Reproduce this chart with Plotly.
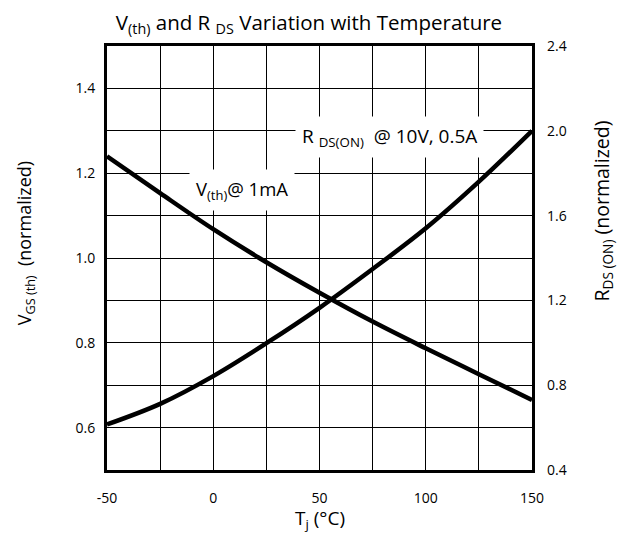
import plotly.graph_objects as go

# ---- data ----
temps = [-50, -25, 0, 25, 50, 75, 100, 125, 150]
vth = [1.24, 1.153, 1.068, 0.99, 0.918, 0.85, 0.787, 0.726, 0.665]
rds = [0.615, 0.712, 0.843, 0.998, 1.165, 1.348, 1.54, 1.76, 2.0]

x_tickvals = [-50, 0, 50, 100, 150]
x_ticktext = ["-50", "0", "50", "100", "150"]
x_gridvals = [-50, -25, 0, 25, 50, 75, 100, 125, 150]
y_tickvals = [0.6, 0.8, 1.0, 1.2, 1.4]
y_ticktext = ["0.6", "0.8", "1.0", "1.2", "1.4"]
y_gridvals = [0.5, 0.6, 0.7, 0.8, 0.9, 1.0, 1.1, 1.2, 1.3, 1.4, 1.5]
y2_tickvals = [0.4, 0.8, 1.2, 1.6, 2.0, 2.4]
y2_ticktext = ["0.4", "0.8", "1.2", "1.6", "2.0", "2.4"]

FONT = "Open Sans"

fig = go.Figure()
fig.add_trace(go.Scatter(x=temps, y=vth, mode="lines", yaxis="y",
                         line=dict(color="black", width=4.5, shape="spline"),
                         showlegend=False, hoverinfo="skip"))
fig.add_trace(go.Scatter(x=temps, y=rds, mode="lines", yaxis="y2",
                         line=dict(color="black", width=4.5, shape="spline"),
                         showlegend=False, hoverinfo="skip"))

fig.update_layout(
    width=610, height=524, autosize=False,
    margin=dict(l=99, r=86, t=38, b=62),
    paper_bgcolor="white", plot_bgcolor="white",
    font=dict(family=FONT, color="black", size=14),
    title=dict(text="V<sub>(th)</sub> and R <sub>DS</sub> Variation with Temperature",
               x=0.4934, xanchor="center", y=0.972, yanchor="middle",
               font=dict(size=20.5, family=FONT, color="black")),
    xaxis=dict(range=[-50, 150], tickvals=x_tickvals, ticktext=x_ticktext,
               showgrid=True, gridcolor="black", gridwidth=1,
               minor=dict(tickvals=x_gridvals, showgrid=True, gridcolor="black",
                          gridwidth=1, ticks=""),
               showline=True, linecolor="black", linewidth=3, mirror=True,
               ticks="", ticklabelstandoff=13, zeroline=False,
               tickfont=dict(size=14)),
    yaxis=dict(range=[0.5, 1.5], tickvals=y_tickvals, ticktext=y_ticktext,
               showgrid=True, gridcolor="black", gridwidth=1,
               minor=dict(tickvals=y_gridvals, showgrid=True, gridcolor="black",
                          gridwidth=1, ticks=""),
               showline=True, linecolor="black", linewidth=3, mirror=True,
               ticks="", ticklabelstandoff=6, zeroline=False,
               tickfont=dict(size=14)),
    yaxis2=dict(range=[0.4, 2.4], tickvals=y2_tickvals, ticktext=y2_ticktext,
                overlaying="y", side="right", showgrid=False, showline=False,
                ticks="", ticklabelstandoff=14, zeroline=False,
                tickfont=dict(size=14)),
    annotations=[
        dict(text="V<sub>(th)</sub>@ 1mA", x=13.5, y=1.16, xref="x", yref="y",
             showarrow=False, bgcolor="white", borderpad=6,
             font=dict(size=18.5, family=FONT)),
        dict(text="R <sub>DS(ON)</sub>  @ 10V, 0.5A", x=83, y=1.285, xref="x", yref="y",
             showarrow=False, bgcolor="white", borderpad=6,
             font=dict(size=19, family=FONT)),
        dict(text="T<sub>j</sub> (°C)", x=0.5, y=-0.116, xref="paper", yref="paper",
             xanchor="center", yanchor="middle", showarrow=False,
             font=dict(size=19, family=FONT)),
        dict(text="V<sub>GS (th)</sub>  (normalized)", x=-0.193, y=0.535,
             xref="paper", yref="paper", xanchor="center", yanchor="middle",
             textangle=-90, showarrow=False, font=dict(size=18, family=FONT)),
        dict(text="R<sub>DS (ON)</sub> (normalized)", x=1.166, y=0.611,
             xref="paper", yref="paper", xanchor="center", yanchor="middle",
             textangle=-90, showarrow=False, font=dict(size=19.5, family=FONT)),
    ],
)

fig.write_html("out.html")
